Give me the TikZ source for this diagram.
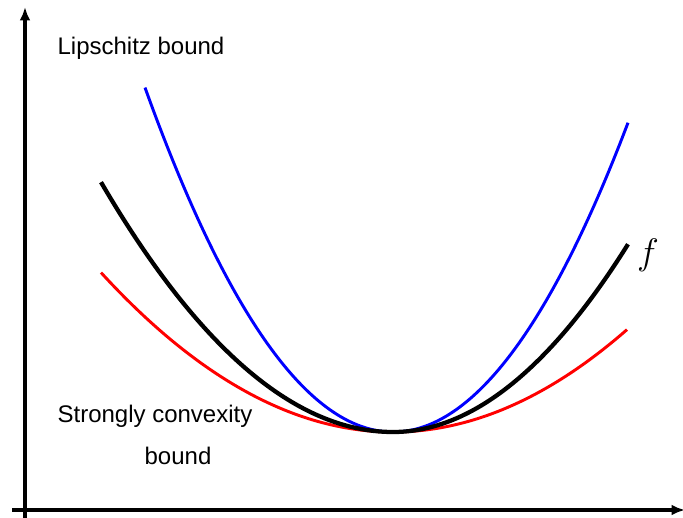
\documentclass[tikz,border=0pt]{standalone}
\usepackage{fontspec}
\setsansfont{Liberation Sans}
\usetikzlibrary{arrows.meta}

\begin{document}
\begin{tikzpicture}[
x=0.75pt, y=-0.75pt,
every node/.style={font=\sffamily\fontsize{18}{22}\selectfont},
axis/.style={line width=2.8pt, -{Latex[length=10pt,width=8pt]}},
curve/.style={line width=2.2pt, smooth, samples=100}
]
\useasboundingbox (0,0) rectangle (683,518);
\coordinate (ybot) at (25,518);
\coordinate (ytop) at (25,7);
\coordinate (xleft) at (12,510);
\coordinate (xright) at (685,510);
\draw[axis] (ybot) -- (ytop);
\draw[axis] (xleft) -- (xright);
% bounds and f
\draw[blue, curve, domain=145:628] plot (\x, {432-56*((\x-393)/100)^2});
\draw[red, curve, domain=101:627] plot (\x, {432-18.7*((\x-393)/100)^2});
\draw[black, curve, line width=3.2pt, domain=101:628]
  plot (\x, {432-(\x<393 ? 29.3 : 34)*((\x-393)/100)^2});
\node (lipschitz) at (141,48) {Lipschitz bound};
\node (strong) at (155,416) {Strongly convexity};
\node (bound) at (178,456) {bound};
\node (flabel) at (648,255) {\scalebox{1.6}{$f$}};
\end{tikzpicture}
\end{document}
